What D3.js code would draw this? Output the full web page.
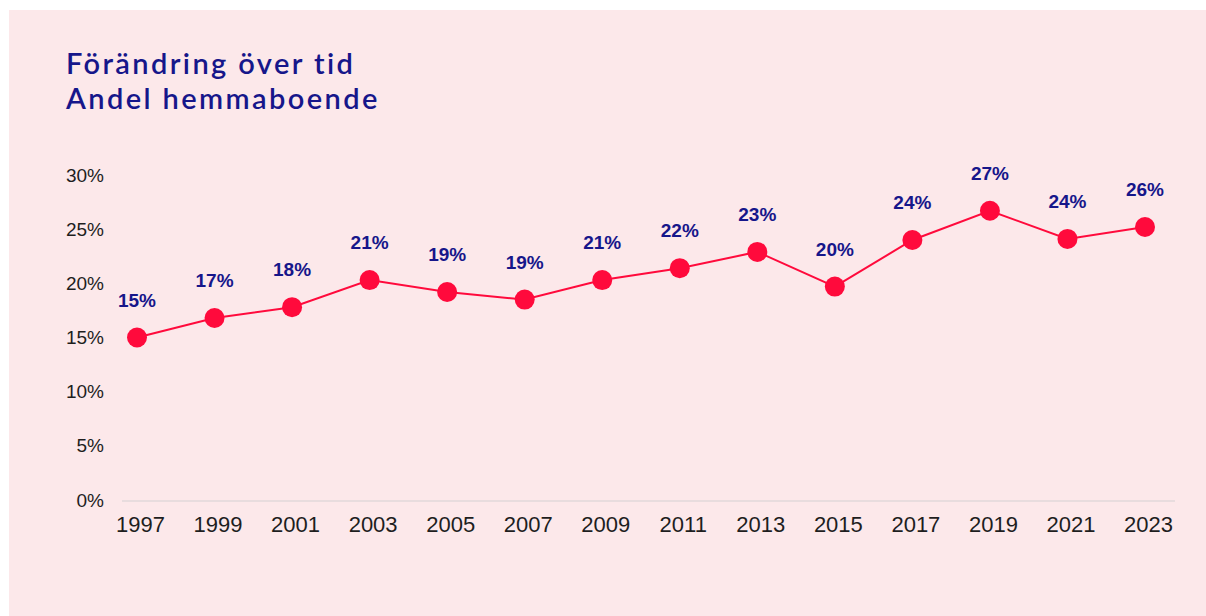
<!DOCTYPE html>
<html>
<head>
<meta charset="utf-8">
<script src="https://cdn.jsdelivr.net/npm/d3@7"></script>
<style>
  html, body { margin: 0; padding: 0; background: #fff; }
  #chart { width: 1206px; height: 616px; }
</style>
</head>
<body>
<div id="chart"></div>
<script>
// Data
const years = ["1997","1999","2001","2003","2005","2007","2009","2011","2013","2015","2017","2019","2021","2023"];
const shares = [15.0, 16.8, 17.8, 20.3, 19.2, 18.5, 20.3, 21.4, 22.9, 19.7, 24.0, 26.7, 24.1, 25.2];
const pointLabels = ["15%","17%","18%","21%","19%","19%","21%","22%","23%","20%","24%","27%","24%","26%"];
const yTicks = [0, 5, 10, 15, 20, 25, 30];
const titleLines = ["Förändring över tid", "Andel hemmaboende"];

const W = 1206, H = 616;
const navy = "#16168a";
const red = "#ff0a3c";

const svg = d3.select("#chart").append("svg")
  .attr("width", W)
  .attr("height", H);

// pink panel
svg.append("rect")
  .attr("x", 9).attr("y", 10)
  .attr("width", W - 9).attr("height", H - 10)
  .attr("fill", "#fce8ea");

// title
svg.append("g")
  .selectAll("text")
  .data(titleLines)
  .enter().append("text")
    .attr("x", 66)
    .attr("y", (d, i) => 74 + i * 35)
    .attr("fill", navy)
    .style("font-family", "Lato, 'Noto Sans', sans-serif")
    .style("font-weight", "600")
    .style("font-size", "29px")
    .style("letter-spacing", "2.4px")
    .text(d => d);

// scales
const x = d3.scalePoint()
  .domain(years)
  .range([137, 1145]);

const y = d3.scaleLinear()
  .domain([0, 30])
  .range([500, 175]);

// baseline
svg.append("line")
  .attr("x1", 122).attr("x2", 1175)
  .attr("y1", y(0) + 1).attr("y2", y(0) + 1)
  .attr("stroke", "#e2d8da")
  .attr("stroke-width", 1.5);

// y axis
const yAxis = svg.append("g")
  .attr("transform", "translate(104,0)")
  .call(d3.axisLeft(y).tickValues(yTicks).tickSize(0).tickPadding(0).tickFormat(d => d + "%"));
yAxis.select(".domain").remove();
yAxis.selectAll("text")
  .attr("fill", "#1e1e1e")
  .style("font-family", "'Liberation Sans', Arial, sans-serif")
  .style("font-size", "19px");

// x axis
const xAxis = svg.append("g")
  .attr("transform", "translate(3," + (y(0) + 16) + ")")
  .call(d3.axisBottom(x).tickSize(0).tickPadding(0));
xAxis.select(".domain").remove();
xAxis.selectAll("text")
  .attr("fill", "#1e1e1e")
  .style("font-family", "'Liberation Sans', Arial, sans-serif")
  .style("font-size", "22px");

// line
const data = years.map((yr, i) => ({ year: yr, value: shares[i], label: pointLabels[i] }));

svg.append("path")
  .datum(data)
  .attr("fill", "none")
  .attr("stroke", red)
  .attr("stroke-width", 2)
  .attr("d", d3.line()
    .x(d => x(d.year))
    .y(d => y(d.value)));

// points
svg.selectAll(".dot")
  .data(data)
  .enter().append("circle")
    .attr("class", "dot")
    .attr("cx", d => x(d.year))
    .attr("cy", d => y(d.value))
    .attr("r", 10)
    .attr("fill", red);

// value labels
svg.selectAll(".lbl")
  .data(data)
  .enter().append("text")
    .attr("class", "lbl")
    .attr("x", d => x(d.year))
    .attr("y", d => y(d.value) - 31)
    .attr("text-anchor", "middle")
    .attr("fill", navy)
    .style("font-family", "'Liberation Sans', Arial, sans-serif")
    .style("font-weight", "bold")
    .style("font-size", "19px")
    .text(d => d.label);
</script>
</body>
</html>
